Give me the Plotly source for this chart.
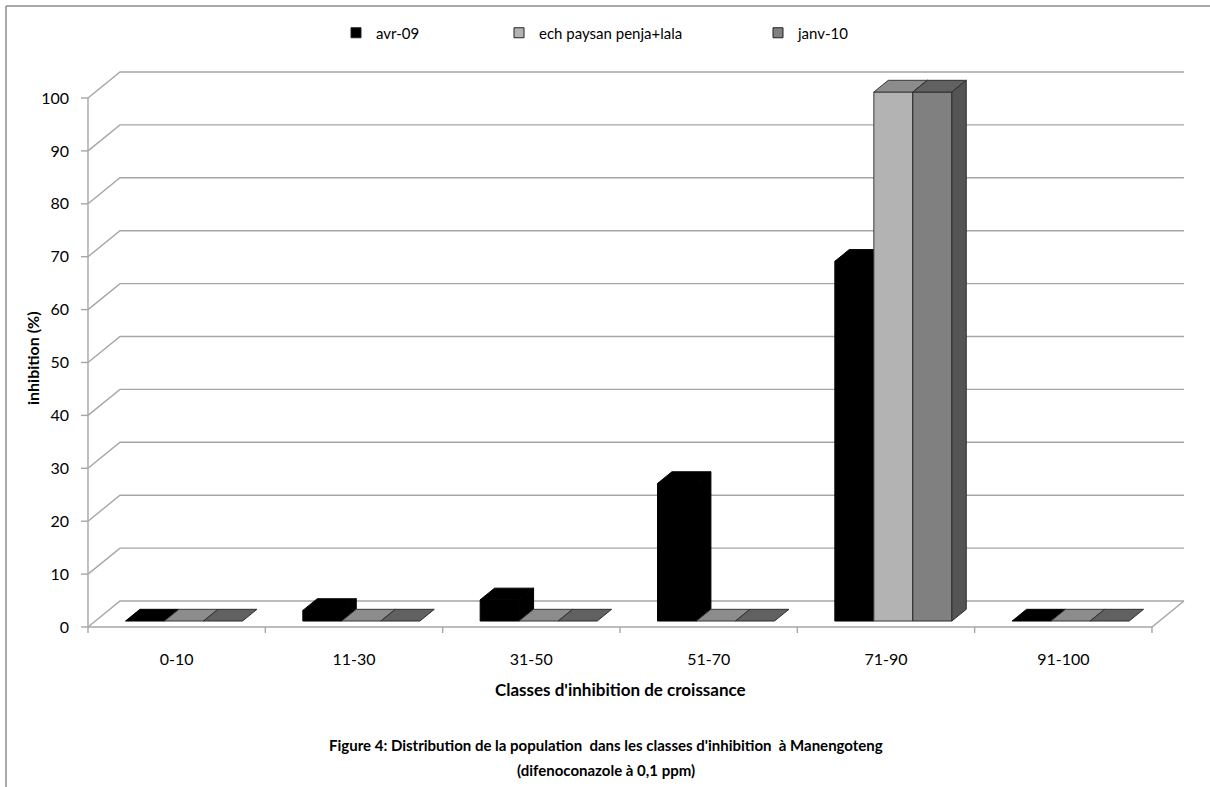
import plotly.graph_objects as go

# ---------------- data ----------------
CATEGORIES = ["0-10", "11-30", "31-50", "51-70", "71-90", "91-100"]
SERIES = ["avr-09", "ech paysan penja+lala", "janv-10"]
AVR_09 = [0, 2, 4, 26, 68, 0]
ECH_PAYSAN = [0, 0, 0, 0, 100, 0]
JANV_10 = [0, 0, 0, 0, 100, 0]
Y_TICKS = [0, 10, 20, 30, 40, 50, 60, 70, 80, 90, 100]

TITLE_1 = "Figure 4: Distribution de la population  dans les classes d'inhibition  à Manengoteng"
TITLE_2 = "(difenoconazole à 0,1 ppm)"
X_TITLE = "Classes d'inhibition de croissance"
Y_TITLE = "inhibition (%)"

# ---------------- style / geometry ----------------
W, H = 1210, 787
ML, MR, MT, MB = 78, 25, 60, 152
PX_X = 177.33            # pixels per category unit
PX_Y = 5.29              # pixels per value unit
PLOT_W = W - ML - MR
PLOT_H = H - MT - MB
X0 = -0.5 - 10 / PX_X
XR = [X0, X0 + PLOT_W / PX_X]
Y_TOP = (627 - MT) / PX_Y
YR = [Y_TOP - PLOT_H / PX_Y, Y_TOP]

WALL_DX = 32 / PX_X
WALL_DY = 26 / PX_Y
BAR_W = 0.22
GROUP_START = -0.33
Z_FRONT, Z_BACK = 0.23, 0.68

FONT = "Lato, Carlito, Calibri, 'Open Sans', sans-serif"
GRID = "#A6A6A6"
FRONT = ["#000000", "#B3B3B3", "#808080"]
TOP = ["#000000", "#8C8C8C", "#616161"]
SIDE = ["#000000", "#7A7A7A", "#545454"]
EDGE = ["#000000", "#3A3A3A", "#2E2E2E"]

values = [AVR_09, ECH_PAYSAN, JANV_10]
n = len(CATEGORIES)

fig = go.Figure()

# ---------- walls, floor, axis lines ----------
gx, gy = [], []
for v in Y_TICKS:
    gx += [-0.5, -0.5 + WALL_DX, n - 0.5 + WALL_DX, None]
    gy += [v, v + WALL_DY, v + WALL_DY, None]
    gx += [-0.5 - 7 / PX_X, -0.5, None]
    gy += [v, v, None]
gx += [-0.5, n - 0.5, n - 0.5 + WALL_DX, None]
gy += [0, 0, WALL_DY, None]
gx += [-0.5, -0.5, None]
gy += [0, Y_TICKS[-1], None]
for k in range(n + 1):
    gx += [k - 0.5, k - 0.5, None]
    gy += [0, -6 / PX_Y, None]
fig.add_trace(go.Scatter(x=gx, y=gy, mode="lines",
                         line=dict(color=GRID, width=1.4),
                         hoverinfo="skip", showlegend=False))

# ---------- 3D bars ----------
fx, fy = Z_FRONT * WALL_DX, Z_FRONT * WALL_DY
bdx, bdy = (Z_BACK - Z_FRONT) * WALL_DX, (Z_BACK - Z_FRONT) * WALL_DY
for s, vals in enumerate(values):
    frx, fry, tx, ty, sx, sy = [], [], [], [], [], []
    for i, v in enumerate(vals):
        xl = i + GROUP_START + s * BAR_W + fx
        xr = xl + BAR_W
        b = fy
        tx += [xl, xr, xr + bdx, xl + bdx, xl, None]
        ty += [b + v, b + v, b + v + bdy, b + v + bdy, b + v, None]
        if v > 0:
            frx += [xl, xr, xr, xl, xl, None]
            fry += [b, b, b + v, b + v, b, None]
            sx += [xr, xr + bdx, xr + bdx, xr, xr, None]
            sy += [b, b + bdy, b + v + bdy, b + v, b, None]
    for xs, ys, col in ((frx, fry, FRONT[s]), (tx, ty, TOP[s]), (sx, sy, SIDE[s])):
        if xs:
            fig.add_trace(go.Scatter(x=xs, y=ys, mode="lines", fill="toself",
                                     fillcolor=col,
                                     line=dict(color=EDGE[s], width=1),
                                     hoverinfo="skip", showlegend=False))

# ---------- legend entries ----------
legend_names = ["legend", "legend2", "legend3"]
for s, name in enumerate(SERIES):
    fig.add_trace(go.Scatter(x=[None], y=[None], mode="markers", name=name,
                             marker=dict(symbol="square", size=10, color=FRONT[s],
                                         line=dict(color="#222222", width=1)),
                             legend=legend_names[s], showlegend=True))


def px2x(px):
    return (px - ML) / PLOT_W


def px2y(py):
    return (H - MB - py) / PLOT_H


leg_common = dict(orientation="h", yanchor="middle", xanchor="left",
                  bgcolor="rgba(0,0,0,0)", font=dict(family=FONT, size=15, color="#000"))
legend_left_px = [336, 499, 758]

fig.update_layout(
    width=W, height=H,
    margin=dict(l=ML, r=MR, t=MT, b=MB, autoexpand=False),
    paper_bgcolor="white", plot_bgcolor="white",
    font=dict(family=FONT, color="#000000"),
    xaxis=dict(range=XR, showgrid=False, zeroline=False, showline=False,
               tickmode="array", tickvals=list(range(n)), ticktext=CATEGORIES,
               ticks="", ticklabelstandoff=13,
               tickfont=dict(family=FONT, size=16, color="#000")),
    yaxis=dict(range=YR, showgrid=False, zeroline=False, showline=False,
               tickmode="array", tickvals=Y_TICKS, ticks="",
               ticklabelstandoff=8,
               tickfont=dict(family=FONT, size=16, color="#000")),
    legend=dict(x=px2x(legend_left_px[0]), y=px2y(33), **leg_common),
    legend2=dict(x=px2x(legend_left_px[1]), y=px2y(33), **leg_common),
    legend3=dict(x=px2x(legend_left_px[2]), y=px2y(33), **leg_common),
    showlegend=True,
)

annotations = [
    dict(text="<b>%s</b>" % Y_TITLE, x=px2x(33), y=px2y(358), textangle=-90,
         font=dict(family=FONT, size=16)),
    dict(text="<b>%s</b>" % X_TITLE, x=px2x(620), y=px2y(690),
         font=dict(family=FONT, size=17)),
    dict(text="<b>%s</b>" % TITLE_1, x=px2x(606), y=px2y(745),
         font=dict(family=FONT, size=15)),
    dict(text="<b>%s</b>" % TITLE_2, x=px2x(606), y=px2y(770),
         font=dict(family=FONT, size=15)),
]
for a in annotations:
    a.update(xref="paper", yref="paper", showarrow=False,
             xanchor="center", yanchor="middle")
fig.update_layout(annotations=annotations)

# chart border (top and left edges visible)
border = dict(type="line", xref="paper", yref="paper",
              line=dict(color="#8C8C8C", width=1.5))
fig.add_shape(x0=px2x(6), x1=px2x(W + 5), y0=px2y(6), y1=px2y(6), **border)
fig.add_shape(x0=px2x(6), x1=px2x(6), y0=px2y(6), y1=px2y(H + 5), **border)

fig.write_html("out.html",
               config={"displayModeBar": False},
               post_script="document.body.style.margin='0';"
                           "document.body.style.overflow='hidden';")
